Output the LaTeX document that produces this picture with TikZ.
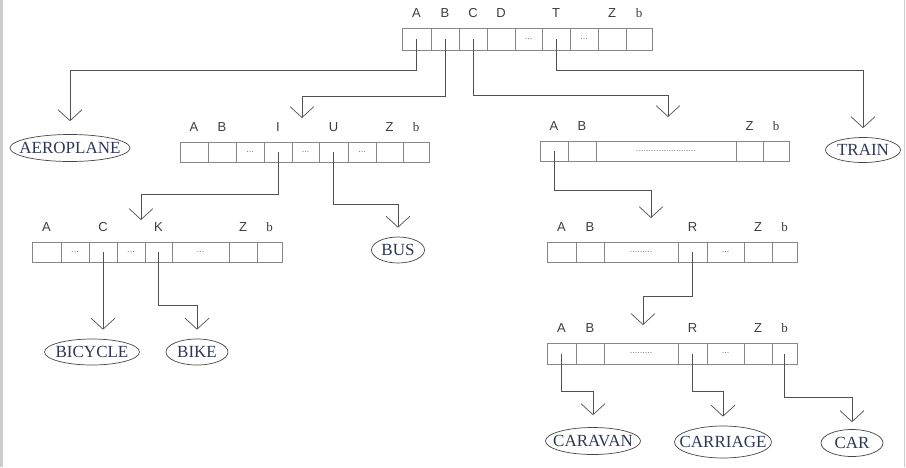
\documentclass[tikz,border=0pt]{standalone}
\usepackage{fontspec}
\setmainfont{Liberation Serif}
\setsansfont{Liberation Sans}
\usetikzlibrary{arrows.meta,shapes.geometric}

\definecolor{linegray}{RGB}{80,80,80}
\definecolor{cellgray}{RGB}{135,135,135}
\definecolor{dotgray}{RGB}{110,110,110}
\definecolor{lettergray}{RGB}{60,60,60}
\definecolor{wordgray}{RGB}{70,70,70}
\definecolor{wordblue}{RGB}{45,55,85}
\definecolor{framegray}{RGB}{205,205,205}

\tikzset{
  cell/.style={draw=cellgray, line width=0.8pt, minimum height=20pt, inner sep=0pt, outer sep=0pt,
    anchor=west, font=\sffamily\fontsize{9}{9}\selectfont, text=dotgray},
  lbl/.style={font=\sffamily\fontsize{13}{13}\selectfont, text=lettergray, inner sep=0pt, yshift=10pt},
  word/.style={ellipse, draw=wordgray, line width=0.7pt, inner sep=0pt},
  wordtext/.style={font=\fontsize{17}{17}\selectfont, text=wordblue, inner sep=0pt},
  conn/.style={draw=linegray, line width=0.7pt, -{Straight Barb[length=11pt,width=24pt]}},
  toword/.style={shorten >=9pt}
}

\begin{document}
\begin{tikzpicture}[x=1pt, y=-1pt]
\useasboundingbox (0,0) rectangle (906,467);
% Frame
\fill[framegray] (0,0) rectangle (3,467);
\draw[framegray] (904.5,0) -- (904.5,467);

% Root array
\node[cell, minimum width=29pt, minimum height=22pt, label={[lbl]above:A}] (topA) at (402,39) {};
\node[cell, minimum width=28pt, minimum height=22pt, label={[lbl]above:B}] (topB) at (topA.east) {};
\node[cell, minimum width=28pt, minimum height=22pt, label={[lbl]above:C}] (topC) at (topB.east) {};
\node[cell, minimum width=28pt, minimum height=22pt, label={[lbl]above:D}] (topD) at (topC.east) {};
\node[cell, minimum width=27pt, minimum height=22pt] (topx1) at (topD.east) {...};
\node[cell, minimum width=28pt, minimum height=22pt, label={[lbl]above:T}] (topT) at (topx1.east) {};
\node[cell, minimum width=28pt, minimum height=22pt] (topx2) at (topT.east) {...};
\node[cell, minimum width=28pt, minimum height=22pt, label={[lbl]above:Z}] (topZ) at (topx2.east) {};
\node[cell, minimum width=26pt, minimum height=22pt, label={[lbl]above:{\rmfamily b}}] (topb) at (topZ.east) {};

% Second level, left
\node[cell, minimum width=28pt, label={[lbl]above:A}] (midA) at (180,152) {};
\node[cell, minimum width=28pt, label={[lbl]above:B}] (midB) at (midA.east) {};
\node[cell, minimum width=28pt] (midx1) at (midB.east) {...};
\node[cell, minimum width=28pt, label={[lbl]above:I}] (midI) at (midx1.east) {};
\node[cell, minimum width=27pt] (midx2) at (midI.east) {...};
\node[cell, minimum width=29pt, label={[lbl]above:U}] (midU) at (midx2.east) {};
\node[cell, minimum width=28pt] (midx3) at (midU.east) {...};
\node[cell, minimum width=27pt, label={[lbl]above:Z}] (midZ) at (midx3.east) {};
\node[cell, minimum width=26pt, label={[lbl]above:{\rmfamily b}}] (midb) at (midZ.east) {};

% Second level, right
\node[cell, minimum width=28pt, label={[lbl]above:A}] (rgtA) at (540,151) {};
\node[cell, minimum width=28pt, label={[lbl]above:B}] (rgtB) at (rgtA.east) {};
\node[cell, minimum width=140pt] (rgtx1) at (rgtB.east) {........................};
\node[cell, minimum width=27pt, label={[lbl]above:Z}] (rgtZ) at (rgtx1.east) {};
\node[cell, minimum width=26pt, label={[lbl]above:{\rmfamily b}}] (rgtb) at (rgtZ.east) {};

% Third level, left
\node[cell, minimum width=29pt, label={[lbl]above:A}] (lowA) at (32,252) {};
\node[cell, minimum width=28pt] (lowx1) at (lowA.east) {...};
\node[cell, minimum width=28pt, label={[lbl]above:C}] (lowC) at (lowx1.east) {};
\node[cell, minimum width=28pt] (lowx2) at (lowC.east) {...};
\node[cell, minimum width=27pt, label={[lbl]above:K}] (lowK) at (lowx2.east) {};
\node[cell, minimum width=57pt] (lowx3) at (lowK.east) {...};
\node[cell, minimum width=28pt, label={[lbl]above:Z}] (lowZ) at (lowx3.east) {};
\node[cell, minimum width=25pt, label={[lbl]above:{\rmfamily b}}] (lowb) at (lowZ.east) {};

% Third level, right
\node[cell, minimum width=29pt, label={[lbl]above:A}] (subA) at (547,252) {};
\node[cell, minimum width=28pt, label={[lbl]above:B}] (subB) at (subA.east) {};
\node[cell, minimum width=74pt] (subx1) at (subB.east) {.........};
\node[cell, minimum width=29pt, label={[lbl]above:R}] (subR) at (subx1.east) {};
\node[cell, minimum width=37pt] (subx2) at (subR.east) {...};
\node[cell, minimum width=28pt, label={[lbl]above:Z}] (subZ) at (subx2.east) {};
\node[cell, minimum width=25pt, label={[lbl]above:{\rmfamily b}}] (subb) at (subZ.east) {};

% Fourth level
\node[cell, minimum width=29pt, minimum height=21pt, label={[lbl]above:A}] (botA) at (547,353.5) {};
\node[cell, minimum width=28pt, minimum height=21pt, label={[lbl]above:B}] (botB) at (botA.east) {};
\node[cell, minimum width=74pt, minimum height=21pt] (botx1) at (botB.east) {.........};
\node[cell, minimum width=29pt, minimum height=21pt, label={[lbl]above:R}] (botR) at (botx1.east) {};
\node[cell, minimum width=37pt, minimum height=21pt] (botx2) at (botR.east) {...};
\node[cell, minimum width=28pt, minimum height=21pt, label={[lbl]above:Z}] (botZ) at (botx2.east) {};
\node[cell, minimum width=25pt, minimum height=21pt, label={[lbl]above:{\rmfamily b}}] (botb) at (botZ.east) {};

% Words
\node[word, minimum width=120pt, minimum height=27pt, label={[wordtext]center:AEROPLANE}] (aero) at (70,148) {};
\node[word, minimum width=75pt, minimum height=25pt, label={[wordtext]center:TRAIN}] (train) at (863,150) {};
\node[word, minimum width=53pt, minimum height=26pt, label={[wordtext]center:BUS}] (bus) at (398,250) {};
\node[word, minimum width=95pt, minimum height=26pt, label={[wordtext]center:BICYCLE}] (bicycle) at (92,352) {};
\node[word, minimum width=62pt, minimum height=26pt, label={[wordtext]center:BIKE}] (bike) at (197,352) {};
\node[word, minimum width=95pt, minimum height=27pt, label={[wordtext]center:CARAVAN}] (caravan) at (593,441) {};
\node[word, minimum width=97pt, minimum height=32pt, label={[wordtext]center:CARRIAGE}] (carriage) at (723,442) {};
\node[word, minimum width=62pt, minimum height=27pt, label={[wordtext]center:CAR}] (car) at (852,443) {};

% Arrow ends above arrays
\coordinate (midIn) at (302,118);
\coordinate (rgtIn) at (668,117);
\coordinate (lowIn) at (141,220);
\coordinate (subIn) at (651,218);
\coordinate (botIn) at (643,325);

% Links
\draw[conn, shorten >=13pt] (topA.center) -- ++(0,31) -| (aero.north);
\draw[conn] (topB.center) -- ++(0,57) -| (midIn);
\draw[conn] (topC.center) -- ++(0,56) -| (rgtIn);
\draw[conn, toword] (topT.center) -- ++(0,31) -| (train.north);
\draw[conn] (midI.center) -- ++(0,42) -| (lowIn);
\draw[conn, toword] (midU.center) -- ++(0,52) -| (bus.north);
\draw[conn] (rgtA.center) -- ++(0,39) -| (subIn);
\draw[conn, toword] (lowC.center) -- (lowC.center |- bicycle.north);
\draw[conn, toword] (lowK.center) -- ++(0,53) -| (bike.north);
\draw[conn] (subR.center) -- ++(0,44) -| (botIn);
\draw[conn, shorten >=12pt] (botA.center) -- ++(0,38) -| (caravan.north);
\draw[conn, toword] (botR.center) -- ++(0,38) -| (carriage.north);
\draw[conn, shorten >=7pt] (botb.center) -- ++(0,44) -| (car.north);
\end{tikzpicture}
\end{document}
